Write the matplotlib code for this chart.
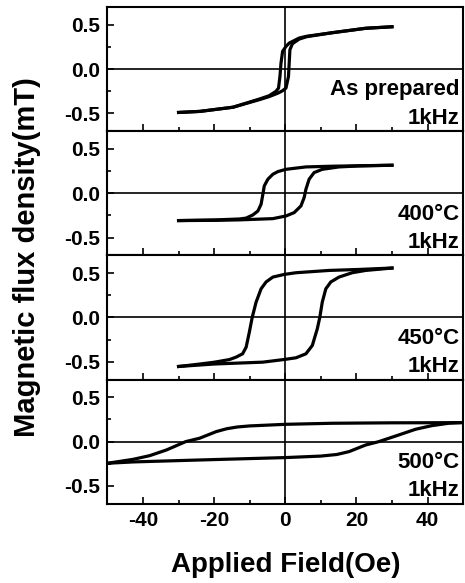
import matplotlib.pyplot as plt

plt.rcParams['font.family'] = ['Liberation Sans', 'DejaVu Sans']
plt.rcParams['font.weight'] = 'bold'
plt.rcParams['axes.unicode_minus'] = False

# As prepared: descending (upper) and ascending (lower) branches
x_ap_up = [30, 22.6, 13.2, 6.0, 3.9, 1.1, 0.2, -0.75, -1.2, -1.5, -1.9, -2.6, -4.5, -7.3, -14.7, -24, -30]
y_ap_up = [0.477, 0.46, 0.41, 0.37, 0.35, 0.293, 0.256, 0.20, 0.068, -0.083, -0.214, -0.25, -0.30, -0.338, -0.43, -0.477, -0.489]
x_ap_dn = [-30, -24, -14.7, -7.3, -4.5, -2.0, -0.8, 0.2, 0.9, 1.1, 1.3, 2.0, 3.9, 6.0, 13.2, 22.6, 30]
y_ap_dn = [-0.489, -0.477, -0.43, -0.345, -0.31, -0.27, -0.245, -0.214, -0.083, 0.068, 0.218, 0.286, 0.338, 0.365, 0.41, 0.46, 0.477]

# 400 C
x_400_up = [30, 20.7, 13.2, 5.8, 0.2, -2.1, -3.5, -4.9, -5.9, -6.3, -6.8, -7.7, -9.1, -11.0, -12.9, -19.4, -30]
y_400_up = [0.316, 0.31, 0.305, 0.297, 0.27, 0.244, 0.214, 0.158, 0.083, -0.011, -0.124, -0.20, -0.244, -0.28, -0.29, -0.30, -0.308]
x_400_dn = [-30, -19.4, -12.9, -3.5, 0.2, 2.5, 4.4, 5.3, 5.8, 6.7, 8.1, 10.4, 15.1, 20.7, 30]
y_400_dn = [-0.308, -0.305, -0.30, -0.286, -0.256, -0.218, -0.143, -0.049, 0.045, 0.158, 0.233, 0.27, 0.297, 0.308, 0.316]

# 450 C
x_450_up = [30, 20.7, 12.3, 3.0, -0.3, -3.5, -5.4, -6.8, -8.2, -9.3, -10.1, -11.0, -12.0, -13.8, -15.7, -20.0, -25.0, -30]
y_450_up = [0.557, 0.541, 0.53, 0.504, 0.485, 0.455, 0.40, 0.323, 0.173, 0.0, -0.165, -0.335, -0.41, -0.447, -0.475, -0.505, -0.53, -0.553]
x_450_dn = [-30, -20.0, -6.3, -0.3, 3.0, 5.8, 7.6, 9.0, 9.7, 10.4, 11.4, 12.8, 15.1, 18.8, 22.6, 30]
y_450_dn = [-0.553, -0.525, -0.504, -0.474, -0.455, -0.41, -0.316, -0.128, 0.0, 0.173, 0.323, 0.40, 0.455, 0.504, 0.53, 0.557]

# 500 C
x_500_up = [50, 30, 13.2, 0, -10, -13.5, -16.5, -19.4, -24.1, -28, -33.4, -38.1, -42.8, -50]
y_500_up = [0.214, 0.212, 0.207, 0.195, 0.177, 0.165, 0.145, 0.113, 0.038, 0.0, -0.094, -0.158, -0.2, -0.244]
x_500_dn = [-50, -42.8, -24.1, 0, 10.0, 14.5, 17.9, 22.6, 26.3, 31.9, 36.6, 39.5, 41.2, 45.9, 50]
y_500_dn = [-0.244, -0.229, -0.207, -0.18, -0.163, -0.145, -0.113, -0.038, 0.0, 0.075, 0.139, 0.165, 0.18, 0.207, 0.216]

panels = [
    (x_ap_up, y_ap_up, x_ap_dn, y_ap_dn, 'As prepared\n1kHz'),
    (x_400_up, y_400_up, x_400_dn, y_400_dn, '400\u00b0C\n1kHz'),
    (x_450_up, y_450_up, x_450_dn, y_450_dn, '450\u00b0C\n1kHz'),
    (x_500_up, y_500_up, x_500_dn, y_500_dn, '500\u00b0C\n1kHz'),
]

fig, axes = plt.subplots(4, 1, sharex=True, figsize=(4.65, 5.83), dpi=100)
fig.subplots_adjust(left=0.231, right=0.996, top=0.988, bottom=0.136, hspace=0)

for ax, (xu, yu, xd, yd, label) in zip(axes, panels):
    ax.plot(xu, yu, color='black', linewidth=2.3, solid_joinstyle='round')
    ax.plot(xd, yd, color='black', linewidth=2.3, solid_joinstyle='round')
    ax.axhline(0, color='black', linewidth=1.2)
    ax.axvline(0, color='black', linewidth=1.2)
    ax.set_xlim(-50, 50)
    ax.set_ylim(-0.7, 0.7)
    ax.set_yticks([-0.5, 0.0, 0.5])
    ax.set_yticks([-0.25, 0.25], minor=True)
    ax.set_xticks([-40, -20, 0, 20, 40])
    ax.set_xticks([-30, -10, 10, 30], minor=True)
    ax.tick_params(which='both', direction='in', top=False, right=False,
                   labelsize=15, width=1.2, pad=5)
    ax.tick_params(which='major', length=5)
    ax.tick_params(which='minor', length=3)
    for s in ax.spines.values():
        s.set_linewidth(1.5)
    ax.text(0.99, 0.02, label, transform=ax.transAxes, ha='right', va='bottom',
            fontsize=16, fontweight='bold', linespacing=1.45, multialignment='right')

axes[-1].set_xlabel('Applied Field(Oe)', fontsize=20, fontweight='bold', labelpad=16)
fig.text(0.058, 0.559, 'Magnetic flux density(mT)', rotation=90, ha='center', va='center',
         fontsize=21, fontweight='bold')

fig.savefig('out.png', dpi=100)
